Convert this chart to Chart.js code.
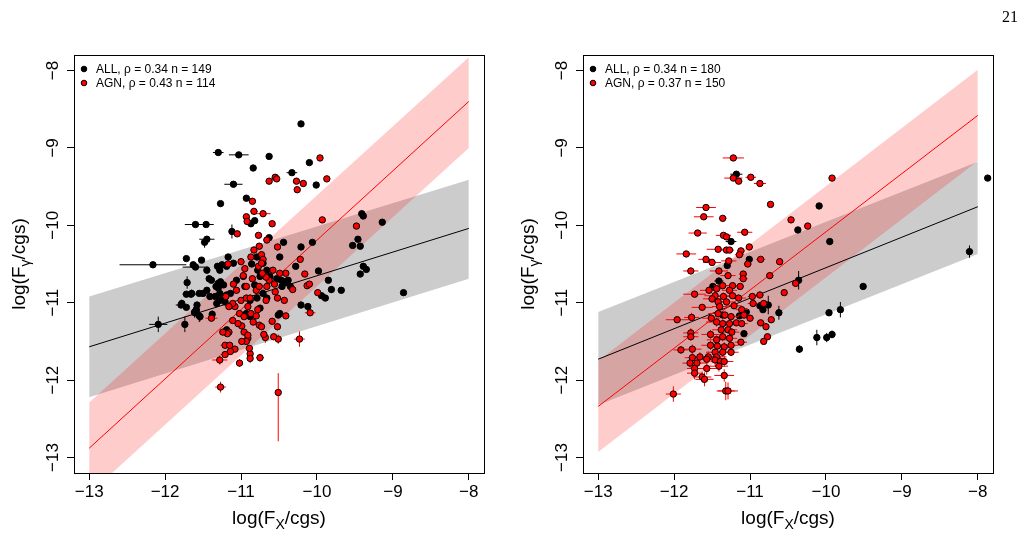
<!DOCTYPE html>
<html>
<head>
<meta charset="utf-8">
<script src="https://cdn.jsdelivr.net/npm/chart.js@4.4.1/dist/chart.umd.min.js"></script>
<style>
  body { margin: 0; background: #fff; width: 1024px; height: 535px; position: relative; overflow: hidden; }
  canvas { position: absolute; top: 0; }
</style>
</head>
<body>
<canvas id="leftPanel" width="512" height="535" style="left:0"></canvas>
<canvas id="rightPanel" width="512" height="535" style="left:512px"></canvas>
<script>
// axis ticks
var xTicks = [-13, -12, -11, -10, -9, -8];
var yTicks = [-13, -12, -11, -10, -9, -8];

// fitted lines and bands, evaluated at fitX
var fitX = [-13, -8];
var leftAllFit = [-11.57, -10.04];
var leftAllHi = [-10.92, -9.41];
var leftAllLo = [-12.22, -10.69];
var leftAgnFit = [-12.88, -8.40];
var leftAgnHi = [-12.29, -7.83];
var leftAgnLo = [-13.47, -9.00];

var rightAllFit = [-11.73, -9.76];
var rightAllHi = [-11.12, -9.18];
var rightAllLo = [-12.32, -10.37];
var rightAgnFit = [-12.34, -8.58];
var rightAgnHi = [-11.75, -7.99];
var rightAgnLo = [-12.93, -9.17];

var leftLegend = ['ALL, \u03c1 = 0.34 n = 149', 'AGN, \u03c1 = 0.43 n = 114'];
var rightLegend = ['ALL, \u03c1 = 0.34 n = 180', 'AGN, \u03c1 = 0.37 n = 150'];

// points: [logFx, logFgamma, xErr, yErr(up), yErr(down, optional)]
var leftAll = [
  [-10.21,-8.69,0,0],[-11.30,-9.06,0.07,0],[-11.03,-9.09,0.13,0],[-10.63,-9.11,0,0],[-10.10,-9.19,0,0],
  [-10.84,-9.26,0,0],[-10.33,-9.32,0.07,0],[-10.01,-9.48,0,0],[-11.10,-9.47,0.12,0],[-11.27,-9.72,0,0],
  [-10.93,-9.65,0,0],[-10.82,-9.94,0,0],[-10.87,-9.98,0,0],[-11.60,-9.99,0.14,0],[-11.46,-9.99,0.10,0],
  [-11.12,-10.08,0,0.09],[-11.45,-10.18,0.10,0],[-11.48,-10.22,0,0.07],[-10.63,-10.16,0,0],[-10.44,-10.22,0,0],
  [-10.21,-10.28,0,0],[-10.06,-10.22,0,0],[-9.41,-9.85,0,0],[-9.39,-9.88,0,0],[-9.14,-9.96,0,0],
  [-9.53,-10.26,0,0],[-9.46,-10.18,0,0],[-9.43,-10.27,0,0],[-9.39,-10.53,0,0],[-9.35,-10.57,0,0],
  [-9.43,-10.63,0,0],[-8.86,-10.87,0,0],[-12.16,-10.51,0.44,0],[-11.72,-10.43,0,0],[-11.60,-10.54,0.17,0],
  [-11.71,-10.74,0,0.08],[-11.72,-10.89,0.05,0],[-11.66,-10.89,0.08,0],[-11.79,-11.03,0.07,0.04],[-11.72,-11.06,0,0],
  [-12.09,-11.28,0.12,0.10],[-11.74,-11.28,0,0.10],[-11.61,-11.13,0,0.06],[-11.59,-11.09,0.05,0],[-11.55,-11.17,0,0.08],
  [-11.38,-11.15,0,0.05],[-9.98,-10.59,0,0],[-9.85,-10.71,0,0],[-9.81,-10.83,0,0.04],[-9.94,-10.91,0,0],
  [-9.89,-10.94,0,0],[-9.68,-10.84,0,0],[-10.21,-11.03,0,0.04],[-10.12,-11.05,0,0.04],[-10.28,-10.53,0,0],
  [-10.47,-10.71,0,0],[-10.42,-10.74,0,0],[-10.51,-11.16,0,0],[-10.78,-10.58,0,0],[-10.86,-10.50,0,0],
  [-11.17,-10.41,0,0],[-11.19,-10.53,0,0],[-11.25,-10.51,0,0],[-11.31,-10.53,0,0],[-11.28,-10.58,0,0],
  [-11.42,-10.69,0,0],[-11.39,-10.71,0,0],[-11.30,-10.75,0,0],[-11.27,-10.73,0,0],[-11.23,-10.77,0,0],
  [-11.30,-10.81,0,0],[-11.33,-10.79,0,0],[-11.45,-10.84,0,0],[-11.41,-10.92,0,0],[-11.34,-10.92,0,0],
  [-11.28,-10.88,0,0],[-11.23,-10.92,0,0],[-11.19,-10.90,0,0],[-11.14,-10.88,0,0],[-11.32,-11.01,0,0.05],
  [-11.28,-10.97,0,0],[-11.21,-10.99,0,0],[-11.78,-11.01,0,0.05],[-11.61,-11.12,0,0.07],[-11.54,-11.18,0,0.06],
  [-11.58,-11.03,0,0],[-11.65,-10.88,0,0.05],[-11.55,-10.88,0,0],[-11.50,-10.88,0,0],[-10.82,-10.77,0,0],
  [-10.75,-10.66,0,0],[-10.71,-10.49,0,0],[-10.66,-10.58,0,0],[-10.62,-10.66,0,0],[-10.53,-10.69,0,0],
  [-10.44,-10.73,0,0],[-10.38,-10.71,0,0],[-10.35,-10.79,0,0],[-10.46,-10.79,0,0],[-10.71,-10.88,0,0],
  [-10.66,-10.94,0,0],[-10.79,-10.94,0,0],[-10.88,-10.97,0,0],[-10.93,-11.14,0,0],[-10.88,-11.18,0,0],
  [-10.75,-11.07,0,0],[-10.49,-11.14,0,0],[-11.19,-11.35,0,0],[-10.79,-10.41,0,0],[-10.49,-10.41,0,0],
  [-10.97,-10.66,0,0],[-11.10,-10.49,0,0],[-11.06,-10.71,0,0],[-10.95,-10.79,0,0],[-11.45,-10.58,0,0],
  [-11.63,-10.51,0,0],[-11.52,-10.45,0,0]
];

var leftAgn = [
  [-9.96,-9.13,0,0],[-9.87,-9.40,0,0],[-10.63,-9.43,0,0],[-10.55,-9.38,0,0],[-10.53,-9.40,0,0],
  [-10.27,-9.43,0,0],[-10.18,-9.46,0,0],[-10.26,-9.54,0,0],[-10.85,-9.69,0,0],[-10.83,-9.82,0.05,0],
  [-10.71,-9.85,0.10,0],[-10.93,-9.89,0,0],[-10.92,-9.95,0.04,0],[-10.59,-9.98,0,0],[-9.93,-9.93,0,0],
  [-9.48,-10.01,0,0],[-11.05,-10.11,0,0],[-10.77,-10.13,0,0],[-10.66,-10.19,0,0],[-10.52,-10.28,0,0],
  [-10.83,-10.32,0,0],[-10.76,-10.27,0,0],[-10.73,-10.38,0,0],[-10.71,-10.44,0,0],[-10.22,-10.44,0,0],
  [-11.17,-10.50,0.05,0],[-11.00,-10.47,0.04,0],[-10.16,-10.63,0,0],[-10.13,-10.78,0,0],[-10.10,-10.76,0.05,0],
  [-10.32,-10.83,0,0],[-9.99,-10.87,0,0],[-10.09,-11.13,0.07,0],[-10.52,-10.94,0,0],[-10.43,-10.97,0,0],
  [-10.41,-11.17,0,0],[-10.59,-11.24,0,0],[-10.52,-11.31,0,0.05],[-10.51,-11.47,0,0.06],[-10.68,-11.45,0,0.07],
  [-10.57,-11.44,0,0],[-10.70,-11.41,0,0],[-10.23,-11.47,0.07,0.10],[-10.51,-12.16,0,0.25,0.63],[-11.27,-12.09,0.07,0.07],
  [-11.28,-11.74,0.10,0.06],[-10.75,-11.71,0.05,0.05],[-11.02,-11.78,0,0.05],[-11.08,-11.60,0,0],[-11.14,-11.63,0.05,0],
  [-11.21,-11.55,0.06,0],[-11.15,-11.55,0,0],[-10.88,-11.66,0,0],[-10.88,-11.72,0,0.06],[-10.89,-11.59,0,0],
  [-10.91,-11.46,0,0],[-10.93,-11.50,0,0],[-10.99,-11.50,0,0],[-10.96,-11.38,0,0],[-10.91,-11.42,0,0],
  [-10.99,-11.30,0,0],[-11.04,-11.27,0,0],[-11.16,-11.38,0.05,0],[-11.18,-11.40,0,0],[-11.39,-11.20,0.08,0],
  [-11.10,-10.76,0,0],[-11.08,-11.05,0,0],[-11.11,-11.01,0.05,0],[-11.00,-10.97,0,0],[-10.93,-10.94,0,0],
  [-10.88,-10.94,0,0],[-10.97,-10.65,0,0],[-10.93,-10.79,0,0],[-10.80,-10.84,0,0],[-10.76,-10.79,0,0],
  [-10.66,-10.79,0,0],[-10.63,-10.71,0,0],[-10.56,-10.76,0,0],[-10.55,-10.86,0,0],[-10.67,-10.67,0,0],
  [-10.85,-10.69,0,0],[-10.72,-10.62,0,0],[-10.77,-10.53,0,0],[-10.87,-10.41,0,0],[-10.95,-10.56,0,0],
  [-11.02,-11.14,0,0],[-10.96,-11.18,0,0],[-10.87,-11.14,0,0],[-10.78,-11.09,0,0],[-10.84,-11.25,0,0],
  [-10.76,-11.29,0,0],[-10.73,-11.31,0,0],[-10.80,-11.17,0,0],[-11.20,-10.92,0.05,0],[-11.16,-11.05,0,0],
  [-11.06,-10.84,0,0],[-10.91,-11.05,0,0],[-10.67,-10.97,0,0],[-10.58,-10.58,0,0],[-10.41,-10.62,0,0],
  [-10.49,-10.62,0,0],[-10.73,-10.49,0,0],[-11.11,-11.23,0,0],[-11.21,-11.67,0.06,0.04],[-11.24,-11.38,0.05,0]
];

var rightAll = [
  [-7.87,-9.39,0,0],[-10.09,-9.75,0,0],[-10.37,-10.06,0,0],[-9.95,-10.21,0,0],[-8.11,-10.34,0,0.08],
  [-9.51,-10.79,0,0],[-10.36,-10.71,0,0.12],[-10.62,-11.13,0,0.09],[-9.81,-11.09,0,0.10],[-9.96,-11.13,0,0],
  [-10.12,-11.45,0,0.10],[-9.99,-11.45,0,0.06],[-9.92,-11.41,0,0.05],[-10.35,-11.60,0,0.05],[-11.18,-9.34,0.08,0],
  [-11.25,-10.21,0.07,0],[-11.01,-10.44,0,0],[-11.30,-10.52,0,0],[-11.41,-10.72,0.06,0],[-11.49,-10.79,0,0],
  [-10.76,-11.03,0,0.12],[-10.87,-11.04,0,0],[-11.09,-11.14,0,0],[-11.08,-11.40,0,0],[-11.36,-11.16,0,0],
  [-11.05,-11.12,0,0],[-10.83,-11.09,0,0],[-11.14,-11.17,0,0]
];

var rightAgn = [
  [-11.22,-9.13,0.14,0.02],[-11.22,-9.39,0.12,0.02],[-11.15,-9.43,0.05,0],[-10.99,-9.38,0.07,0],[-10.87,-9.46,0.08,0],
  [-10.73,-9.73,0.03,0],[-9.92,-9.39,0,0],[-10.46,-9.93,0,0],[-10.24,-10.01,0,0],[-11.58,-9.77,0.13,0],
  [-11.61,-9.89,0.13,0.02],[-11.36,-9.91,0.05,0],[-11.69,-10.10,0.12,0],[-11.35,-10.13,0.10,0],[-11.31,-10.15,0.05,0],
  [-11.07,-10.09,0.10,0],[-11.84,-10.37,0.13,0],[-11.42,-10.31,0.15,0],[-11.31,-10.32,0.08,0],[-11.27,-10.32,0.06,0],
  [-11.12,-10.33,0.05,0],[-11.01,-10.28,0.04,0],[-11.14,-10.38,0.06,0],[-10.86,-10.44,0.06,0],[-10.61,-10.47,0,0],
  [-11.58,-10.44,0.10,0.03],[-11.50,-10.48,0.12,0],[-11.28,-10.46,0.10,0.03],[-11.03,-10.50,0.05,0],[-11.78,-10.59,0.10,0],
  [-11.41,-10.59,0.12,0.03],[-11.29,-10.65,0.10,0.04],[-11.09,-10.63,0.05,0],[-11.09,-10.69,0.06,0],[-10.74,-10.65,0.05,0],
  [-11.36,-10.78,0.12,0.04],[-11.23,-10.78,0.10,0.03],[-11.13,-10.79,0.05,0],[-11.54,-10.84,0.12,0.03],[-11.44,-10.82,0.08,0],
  [-11.27,-10.84,0.10,0.04],[-11.46,-10.91,0.14,0.04],[-11.35,-10.92,0.10,0.05],[-11.23,-10.91,0.08,0.03],[-11.15,-10.94,0.10,0],
  [-11.73,-10.89,0.15,0],[-10.97,-10.92,0.06,0],[-10.87,-10.90,0.05,0],[-10.96,-11.01,0.07,0],[-10.82,-11.01,0.05,0.03],
  [-10.40,-10.75,0.04,0],[-10.55,-10.87,0,0],[-11.50,-10.95,0.12,0.04],[-11.42,-10.99,0.10,0.05],[-11.31,-10.99,0.12,0.04],
  [-11.21,-11.04,0.10,0.03],[-11.11,-11.09,0.08,0],[-11.63,-11.06,0.14,0],[-11.40,-11.05,0.10,0.05],[-11.42,-11.14,0.13,0.06],
  [-11.33,-11.16,0.12,0.05],[-11.25,-11.18,0.10,0.04],[-11.08,-11.16,0.08,0],[-11.00,-11.20,0.05,0],[-10.86,-11.26,0.05,0],
  [-10.79,-11.31,0.04,0],[-10.72,-11.22,0.03,0],[-11.96,-11.22,0.15,0],[-11.77,-11.19,0.10,0.06],[-11.51,-11.20,0.12,0.05],
  [-11.44,-11.25,0.14,0.06],[-11.36,-11.27,0.13,0.06],[-11.27,-11.27,0.12,0.05],[-11.18,-11.26,0.10,0.04],[-11.11,-11.27,0.08,0],
  [-11.38,-11.35,0.12,0.06],[-11.29,-11.35,0.12,0.05],[-11.24,-11.38,0.10,0.05],[-11.52,-11.41,0.12,0.06],[-11.78,-11.39,0.10,0.06],
  [-11.78,-11.44,0.10,0.05],[-11.44,-11.48,0.13,0.07],[-11.36,-11.44,0.12,0.06],[-11.27,-11.46,0.10,0.05],[-11.12,-11.51,0.08,0],
  [-10.77,-11.44,0.04,0],[-10.82,-11.50,0.04,0.03],[-11.52,-11.55,0.12,0.06],[-11.43,-11.56,0.13,0.07],[-11.34,-11.57,0.12,0.06],
  [-11.25,-11.55,0.10,0.05],[-11.91,-11.61,0.10,0.05],[-11.76,-11.60,0.12,0.06],[-11.46,-11.64,0.12,0.07],[-11.36,-11.64,0.13,0.06],
  [-11.25,-11.64,0.10,0.05],[-11.55,-11.70,0.12,0.07],[-11.44,-11.70,0.13,0.08],[-11.76,-11.71,0.10,0.07],[-11.66,-11.70,0.12,0.06],
  [-11.57,-11.73,0.12,0.07],[-11.46,-11.74,0.12,0.08],[-11.39,-11.76,0.13,0.07],[-11.34,-11.76,0.12,0.07],[-11.79,-11.78,0.10,0.06],
  [-11.70,-11.78,0.12,0.07],[-11.57,-11.85,0.12,0.08],[-11.41,-11.82,0.12,0.07],[-11.73,-11.85,0.10,0.07],[-11.73,-11.91,0.10,0.08],
  [-11.63,-11.96,0.12,0.07],[-11.60,-11.99,0.12,0.09],[-11.34,-11.94,0.13,0.08],[-11.32,-12.14,0.12,0.12],[-11.29,-12.14,0.13,0.11],
  [-12.01,-12.18,0.10,0.10]
];

var FONT = '"Liberation Sans", Arial, Helvetica, sans-serif';
Chart.defaults.font.family = FONT;

function minusLabel(v) {
  return v < 0 ? '\u2212' + Math.abs(v) : String(v);
}

function toPoints(rows) {
  return rows.map(function (r) {
    return { x: r[0], y: r[1], xe: r[2], ye: r[3], yd: r.length > 4 ? r[4] : r[3] };
  });
}

function toLine(ys) {
  return fitX.map(function (x, i) { return { x: x, y: ys[i] }; });
}

// draw a label like log(F_X/cgs) centred on (0,0) at the alphabetic baseline
function drawSubText(ctx, head, sub, tail, size) {
  ctx.textAlign = 'left';
  ctx.textBaseline = 'alphabetic';
  ctx.font = size + 'px ' + FONT;
  var w1 = ctx.measureText(head).width;
  var w3 = ctx.measureText(tail).width;
  ctx.font = Math.round(size * 0.72) + 'px ' + FONT;
  var w2 = ctx.measureText(sub).width;
  var x0 = -(w1 + w2 + w3) / 2;
  ctx.font = size + 'px ' + FONT;
  ctx.fillText(head, x0, 0);
  ctx.font = Math.round(size * 0.72) + 'px ' + FONT;
  ctx.fillText(sub, x0 + w1, size * 0.28);
  ctx.font = size + 'px ' + FONT;
  ctx.fillText(tail, x0 + w1 + w2, 0);
}

var errorBars = {
  id: 'errorBars',
  beforeDatasetDraw: function (chart, args) {
    var ds = chart.data.datasets[args.index];
    if (!ds.errColor) return;
    var ctx = chart.ctx, a = chart.chartArea, xs = chart.scales.x, ys = chart.scales.y;
    ctx.save();
    ctx.beginPath();
    ctx.rect(a.left, a.top, a.right - a.left, a.bottom - a.top);
    ctx.clip();
    ctx.strokeStyle = ds.errColor;
    ctx.lineWidth = 1;
    ctx.beginPath();
    ds.data.forEach(function (p) {
      var px = xs.getPixelForValue(p.x), py = ys.getPixelForValue(p.y);
      if (p.xe) {
        ctx.moveTo(xs.getPixelForValue(p.x - p.xe), py);
        ctx.lineTo(xs.getPixelForValue(p.x + p.xe), py);
      }
      if (p.ye) {
        ctx.moveTo(px, ys.getPixelForValue(p.y + p.ye));
        ctx.lineTo(px, ys.getPixelForValue(p.y - p.yd));
      }
    });
    ctx.stroke();
    ctx.restore();
  }
};

var decor = {
  id: 'decor',
  afterDraw: function (chart, args, opts) {
    var ctx = chart.ctx, a = chart.chartArea, ys = chart.scales.y;
    ctx.save();
    // box
    ctx.strokeStyle = '#000';
    ctx.lineWidth = 1;
    ctx.strokeRect(Math.round(a.left) + 0.5, Math.round(a.top) + 0.5,
      Math.round(a.right - a.left), Math.round(a.bottom - a.top));

    // rotated y tick labels
    ctx.fillStyle = '#000';
    ctx.font = '17px ' + FONT;
    ctx.textAlign = 'center';
    ctx.textBaseline = 'alphabetic';
    yTicks.forEach(function (v) {
      ctx.save();
      ctx.translate(opts.yLabelX, ys.getPixelForValue(v));
      ctx.rotate(-Math.PI / 2);
      ctx.fillText(minusLabel(v), 0, 0);
      ctx.restore();
    });

    // axis titles
    ctx.save();
    ctx.translate((a.left + a.right) / 2, 524);
    drawSubText(ctx, 'log(F', 'X', '/cgs)', 19);
    ctx.restore();
    ctx.save();
    ctx.translate(opts.yTitleX, (a.top + a.bottom) / 2);
    ctx.rotate(-Math.PI / 2);
    drawSubText(ctx, 'log(F', '\u03b3', '/cgs)', 19);
    ctx.restore();

    // legend
    var cols = ['#000', '#ff0000'];
    ctx.font = '12px ' + FONT;
    ctx.textAlign = 'left';
    ctx.textBaseline = 'middle';
    opts.legend.forEach(function (txt, i) {
      var yy = 69 + i * 14;
      ctx.beginPath();
      ctx.arc(a.left + 10, yy, 2.8, 0, Math.PI * 2);
      ctx.fillStyle = cols[i];
      ctx.fill();
      ctx.strokeStyle = '#000';
      ctx.stroke();
      ctx.fillStyle = '#000';
      ctx.fillText(txt, a.left + 22, yy + 0.5);
    });

    if (opts.page) {
      ctx.font = '16px "Liberation Serif", "Times New Roman", serif';
      ctx.textAlign = 'right';
      ctx.textBaseline = 'alphabetic';
      ctx.fillText(opts.page, 506, 22);
    }
    ctx.restore();
  }
};

function makePanel(id, all, agn, lines, legend, yAxisWidth, rightPad, yLabelX, yTitleX, page) {
  var ctx = document.getElementById(id).getContext('2d');
  return new Chart(ctx, {
    type: 'scatter',
    data: {
      datasets: [
        { type: 'line', data: toLine(lines.allHi), borderWidth: 0, borderColor: 'rgba(0,0,0,0)',
          pointRadius: 0, fill: '+1', backgroundColor: 'rgba(0,0,0,0.2)', order: 10 },
        { type: 'line', data: toLine(lines.allLo), borderWidth: 0, borderColor: 'rgba(0,0,0,0)',
          pointRadius: 0, fill: false, order: 10 },
        { type: 'line', data: toLine(lines.agnHi), borderWidth: 0, borderColor: 'rgba(0,0,0,0)',
          pointRadius: 0, fill: '+1', backgroundColor: 'rgba(255,0,0,0.2)', order: 9 },
        { type: 'line', data: toLine(lines.agnLo), borderWidth: 0, borderColor: 'rgba(0,0,0,0)',
          pointRadius: 0, fill: false, order: 9 },
        { type: 'line', data: toLine(lines.allFit), borderWidth: 1, borderColor: '#000',
          pointRadius: 0, fill: false, order: 8 },
        { type: 'line', data: toLine(lines.agnFit), borderWidth: 1, borderColor: '#ff0000',
          pointRadius: 0, fill: false, order: 7 },
        { type: 'scatter', data: toPoints(all), errColor: '#000', pointRadius: 3.2,
          pointBackgroundColor: '#000', pointBorderColor: '#000', pointBorderWidth: 1, order: 6 },
        { type: 'scatter', data: toPoints(agn), errColor: '#ff0000', pointRadius: 3.2,
          pointBackgroundColor: '#ff0000', pointBorderColor: '#000', pointBorderWidth: 1, order: 5 }
      ]
    },
    options: {
      responsive: false,
      animation: false,
      events: [],
      layout: { padding: { top: 55, right: rightPad, bottom: 0, left: 0 } },
      plugins: {
        legend: { display: false },
        tooltip: { enabled: false },
        decor: { yLabelX: yLabelX, yTitleX: yTitleX, legend: legend, page: page }
      },
      scales: {
        x: {
          type: 'linear', min: -13.2, max: -7.8,
          afterBuildTicks: function (s) { s.ticks = xTicks.map(function (v) { return { value: v }; }); },
          afterFit: function (s) { s.height = 62; },
          grid: { drawOnChartArea: false, drawTicks: true, tickLength: 7, color: '#000', tickColor: '#000' },
          border: { display: false },
          ticks: { color: '#000', font: { size: 17 }, padding: 2, maxRotation: 0, autoSkip: false,
            callback: function (v) { return minusLabel(v); } }
        },
        y: {
          type: 'linear', min: -13.2, max: -7.8,
          afterBuildTicks: function (s) { s.ticks = yTicks.map(function (v) { return { value: v }; }); },
          afterFit: function (s) { s.width = yAxisWidth; },
          grid: { drawOnChartArea: false, drawTicks: true, tickLength: 7, color: '#000', tickColor: '#000' },
          border: { display: false },
          ticks: { display: false }
        }
      }
    },
    plugins: [errorBars, decor]
  });
}

makePanel('leftPanel', leftAll, leftAgn,
  { allFit: leftAllFit, allHi: leftAllHi, allLo: leftAllLo, agnFit: leftAgnFit, agnHi: leftAgnHi, agnLo: leftAgnLo },
  leftLegend, 74, 28, 58, 25, null);

makePanel('rightPanel', rightAll, rightAgn,
  { allFit: rightAllFit, allHi: rightAllHi, allLo: rightAllLo, agnFit: rightAgnFit, agnHi: rightAgnHi, agnLo: rightAgnLo },
  rightLegend, 71, 31, 55, 22, '21');
</script>
</body>
</html>
